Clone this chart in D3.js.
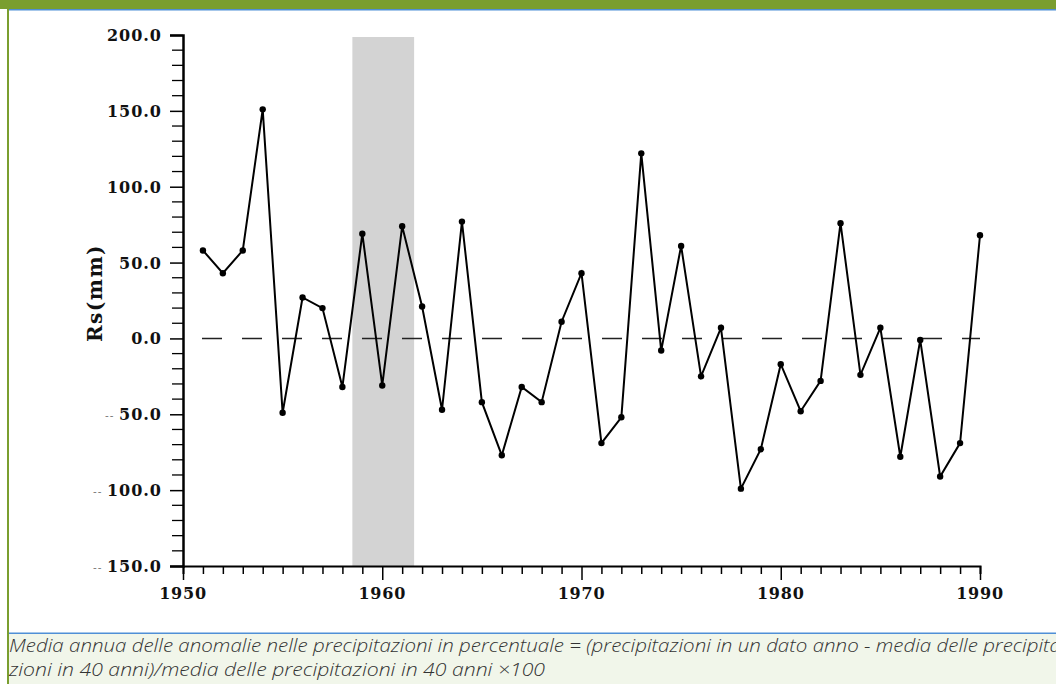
<!DOCTYPE html>
<html><head><meta charset="utf-8">
<script src="https://cdn.jsdelivr.net/npm/d3@7"></script>
<style>html,body{margin:0;padding:0;background:#fff;}svg{display:block;}</style>
</head><body>
<svg id="chart" width="1056" height="684"></svg>
<script>
// ---- data ----
const years = [1951,1952,1953,1954,1955,1956,1957,1958,1959,1960,
               1961,1962,1963,1964,1965,1966,1967,1968,1969,1970,
               1971,1972,1973,1974,1975,1976,1977,1978,1979,1980,
               1981,1982,1983,1984,1985,1986,1987,1988,1989,1990];
const rs = [58,43,58,151,-49,27,20,-32,69,-31,
            74,21,-47,77,-42,-77,-32,-42,11,43,
            -69,-52,122,-8,61,-25,7,-99,-73,-17,
            -48,-28,76,-24,7,-78,-1,-91,-69,68];
const shadeRange = [1958.5, 1961.6];
const yTicks = [200,150,100,50,0,-50,-100,-150];
const xTickLabels = [1950,1960,1970,1980,1990];
const yTitle = "Rs(mm)";
const caption1 = "Media annua delle anomalie nelle precipitazioni in percentuale = (precipitazioni in un dato anno - media delle precipita";
const caption2 = "zioni in 40 anni)/media delle precipitazioni in 40 anni \u00d7100";

const svg = d3.select("#chart");
const green = "#7a9e2f", blue = "#4f8fd6";

// frame
svg.append("rect").attr("x",0).attr("y",0).attr("width",1056).attr("height",9).attr("fill",green);
svg.append("rect").attr("x",7).attr("y",9).attr("width",1049).attr("height",1.5).attr("fill",blue);
svg.append("rect").attr("x",7).attr("y",634).attr("width",1049).attr("height",50).attr("fill","#f1f6ea");
svg.append("rect").attr("x",7).attr("y",632.5).attr("width",1049).attr("height",1.5).attr("fill",blue);
svg.append("rect").attr("x",7).attr("y",0).attr("width",2).attr("height",684).attr("fill",green);

// scales
const x = d3.scaleLinear().domain([1950,1990]).range([183,980]);
const y = d3.scaleLinear().domain([-150,200]).range([566,35]);

// shaded band
svg.append("rect")
  .attr("x", x(shadeRange[0])).attr("width", x(shadeRange[1]) - x(shadeRange[0]))
  .attr("y", y(200)+2).attr("height", y(-150) - y(200) - 2)
  .attr("fill","#d3d3d3");

const serif = "'DejaVu Serif', 'Liberation Serif', serif";

// y axis
const yAxis = d3.axisLeft(y).tickValues(yTicks).tickSize(13).tickFormat(() => "");
const gy = svg.append("g").attr("transform","translate(183,0)").call(yAxis);
gy.select(".domain").attr("stroke","#000").attr("stroke-width",2.5);
gy.selectAll(".tick line").attr("stroke","#000").attr("stroke-width",1.5);
// minor y ticks
const minorY = d3.range(-150,201,10).filter(v => v % 50 !== 0);
svg.append("g").selectAll("line").data(minorY).join("line")
  .attr("x1",172).attr("x2",183).attr("y1",d=>y(d)).attr("y2",d=>y(d))
  .attr("stroke","#000").attr("stroke-width",1.3);
// y labels
const yl = svg.append("g").selectAll("text").data(yTicks).join("text")
  .attr("x",162).attr("y",d=>y(d)+6)
  .attr("text-anchor","end")
  .attr("font-family",serif).attr("font-weight","bold").attr("font-size",16)
  .attr("letter-spacing",1)
  .attr("fill","#111");
yl.each(function(d){
  const t = d3.select(this);
  if (d < 0) {
    t.append("tspan").attr("fill","#777").attr("font-size",11).attr("font-weight","normal").text("-- ");
  }
  t.append("tspan").text(Math.abs(d).toFixed(1));
});

// x axis
const xAxis = d3.axisBottom(x).tickValues(d3.range(1950,1991,1)).tickSize(8).tickFormat(()=>"");
const gx = svg.append("g").attr("transform",`translate(0,${y(-150)})`).call(xAxis);
gx.select(".domain").attr("stroke","#000").attr("stroke-width",2);
gx.selectAll(".tick line").attr("stroke","#000").attr("stroke-width",1.5)
  .attr("y2", d => d % 10 === 0 ? 14 : 8);
svg.append("g").selectAll("text").data(xTickLabels).join("text")
  .attr("x",d=>x(d)).attr("y",y(-150)+33)
  .attr("text-anchor","middle")
  .attr("font-family",serif).attr("font-weight","bold").attr("font-size",16)
  .attr("letter-spacing",0.8)
  .attr("fill","#111").text(d=>d);

// y title
svg.append("text")
  .attr("transform","translate(102,293) rotate(-90)")
  .attr("text-anchor","middle")
  .attr("font-family",serif).attr("font-weight","bold").attr("font-size",20)
  .attr("letter-spacing",1.5)
  .attr("fill","#111").text(yTitle);

// zero line
svg.append("line")
  .attr("x1",202).attr("x2",980).attr("y1",y(0)).attr("y2",y(0))
  .attr("stroke","#222").attr("stroke-width",1.5).attr("stroke-dasharray","20,20");

// series
const pts = years.map((yr,i)=>({yr, v: rs[i]}));
svg.append("path").datum(pts)
  .attr("fill","none").attr("stroke","#000").attr("stroke-width",2)
  .attr("d", d3.line().x(d=>x(d.yr)).y(d=>y(d.v)));
svg.append("g").selectAll("circle").data(pts).join("circle")
  .attr("cx",d=>x(d.yr)).attr("cy",d=>y(d.v)).attr("r",3.2).attr("fill","#000");

// caption
const capFont = "'Open Sans', 'Lato', sans-serif";
svg.append("text").attr("x",9).attr("y",652)
  .attr("font-family",capFont).attr("font-style","italic").attr("font-weight",300)
  .attr("font-size",18).attr("fill","#333")
  .attr("textLength",1052).attr("lengthAdjust","spacingAndGlyphs")
  .text(caption1);
svg.append("text").attr("x",9).attr("y",676)
  .attr("font-family",capFont).attr("font-style","italic").attr("font-weight",300)
  .attr("font-size",18).attr("fill","#333")
  .attr("textLength",536).attr("lengthAdjust","spacingAndGlyphs")
  .text(caption2);
</script>
</body></html>
